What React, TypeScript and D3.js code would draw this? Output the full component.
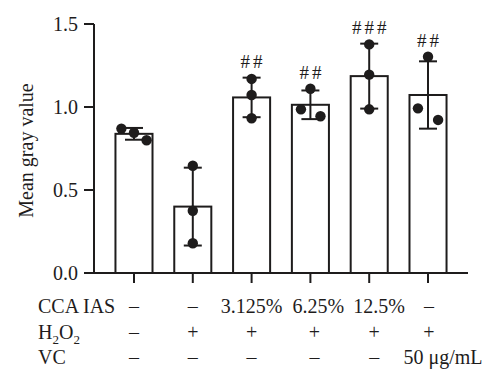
import * as d3 from "d3";

// groups and readings
const groups = ["ctrl", "h2o2", "cca1", "cca2", "cca3", "vc"];
const replicates = [
  [0.87, 0.845, 0.8],
  [0.646, 0.375, 0.179],
  [1.169, 1.072, 0.932],
  [1.11, 0.986, 0.944],
  [1.377, 1.195, 0.986],
  [1.303, 0.992, 0.922],
];
// horizontal spread of the dots, in dot steps
const jitter = [
  [-1, 0, 1],
  [0, 0, 0],
  [0, 0, 0],
  [0, -0.75, 0.8],
  [0, 0, 0],
  [0, -0.8, 0.8],
];
const marks = ["", "", "##", "##", "###", "##"];
const yTicks = [0, 0.5, 1.0, 1.5];

const ccaRow = ["–", "–", "3.125%", "6.25%", "12.5%", "–"];
const h2o2Row = ["–", "+", "+", "+", "+", "+"];
const vcRow = ["–", "–", "–", "–", "–", "50 μg/mL"];

const width = 500;
const height = 388;
const ink = "#1e1c1c";
const font = "'Liberation Serif', 'DejaVu Serif', serif";

const App = () => {
  const x0 = 94;
  const x1 = 468;
  const y = d3.scaleLinear().domain([0, 1.5]).range([273, 24]);
  const x = d3
    .scaleBand()
    .domain(groups)
    .range([x0, x1])
    .paddingInner(0.37)
    .paddingOuter(0.365);
  const bw = x.bandwidth();

  const stats = replicates.map((r) => ({
    mean: d3.mean(r) as number,
    sd: d3.deviation(r) as number,
  }));

  const cx = (i: number) => (x(groups[i]) as number) + bw / 2;
  const rows = [ccaRow, h2o2Row, vcRow];
  const rowY = [313, 338.5, 364];
  // text cells sit a little right of the ticks toward the right side
  const cellShift = [0, 0, 0, 8, 10, 2];

  return (
    <svg
      width={width}
      height={height}
      style={{ position: "absolute", left: 0, top: 0, background: "#fff" }}
      fontFamily={font}
    >
      {/* bars */}
      {stats.map((s, i) => (
        <rect
          key={"b" + i}
          x={x(groups[i])}
          y={y(s.mean)}
          width={bw}
          height={y(0) - y(s.mean)}
          fill="#fff"
          stroke={ink}
          strokeWidth={2}
        />
      ))}

      {/* error bars */}
      {stats.map((s, i) => {
        const c = cx(i);
        return (
          <g key={"e" + i} stroke={ink} strokeWidth={2}>
            <line x1={c} x2={c} y1={y(s.mean + s.sd)} y2={y(s.mean - s.sd)} />
            <line x1={c - 9} x2={c + 9} y1={y(s.mean + s.sd)} y2={y(s.mean + s.sd)} />
            <line x1={c - 9} x2={c + 9} y1={y(s.mean - s.sd)} y2={y(s.mean - s.sd)} />
          </g>
        );
      })}

      {/* dots */}
      {replicates.map((r, i) =>
        r.map((v, j) => (
          <circle
            key={"p" + i + "-" + j}
            cx={cx(i) + jitter[i][j] * bw * 0.34}
            cy={y(v)}
            r={5.2}
            fill={ink}
          />
        ))
      )}

      {/* significance marks */}
      {marks.map((m, i) => {
        const top = Math.max(d3.max(replicates[i]) as number, stats[i].mean + stats[i].sd);
        return (
          <text
            key={"m" + i}
            x={cx(i) + 1.5}
            y={y(top) - 10}
            textAnchor="middle"
            fontSize={19}
            letterSpacing={3}
            fill={ink}
          >
            {m}
          </text>
        );
      })}

      {/* y axis */}
      <line x1={x0} x2={x0} y1={y(1.5)} y2={y(0)} stroke={ink} strokeWidth={2} />
      {yTicks.map((t) => (
        <g key={"t" + t}>
          <line x1={x0 - 10} x2={x0} y1={y(t)} y2={y(t)} stroke={ink} strokeWidth={2} />
          <text x={x0 - 16} y={y(t)} dy="0.35em" textAnchor="end" fontSize={20} fill={ink}>
            {d3.format(".1f")(t)}
          </text>
        </g>
      ))}
      <text
        transform={`translate(33,${(y(0) + y(1.5)) / 2 + 2}) rotate(-90)`}
        textAnchor="middle"
        fontSize={20}
        fill={ink}
      >
        Mean gray value
      </text>

      {/* x axis */}
      <line x1={x0 - 1} x2={x1} y1={y(0)} y2={y(0)} stroke={ink} strokeWidth={2} />
      {groups.map((g, i) => (
        <line key={"xt" + g} x1={cx(i)} x2={cx(i)} y1={y(0)} y2={y(0) + 10} stroke={ink} strokeWidth={2} />
      ))}

      {/* treatment table */}
      <text x={38} y={rowY[0]} fontSize={20} fill={ink}>CCA IAS</text>
      <text x={38} y={rowY[1]} fontSize={20} fill={ink}>
        H<tspan fontSize={13} dy={5}>2</tspan>
        <tspan dy={-5}>O</tspan>
        <tspan fontSize={13} dy={5}>2</tspan>
      </text>
      <text x={38} y={rowY[2]} fontSize={20} fill={ink}>VC</text>
      {rows.map((row, k) =>
        row.map((v, i) => (
          <text
            key={"r" + k + "-" + i}
            x={cx(i) + (v.length > 6 ? 15 : v.length > 1 ? cellShift[i] : cellShift[i] / 2)}
            y={rowY[k]}
            textAnchor="middle"
            fontSize={20}
            fill={ink}
          >
            {v}
          </text>
        ))
      )}
    </svg>
  );
};

export default App;
